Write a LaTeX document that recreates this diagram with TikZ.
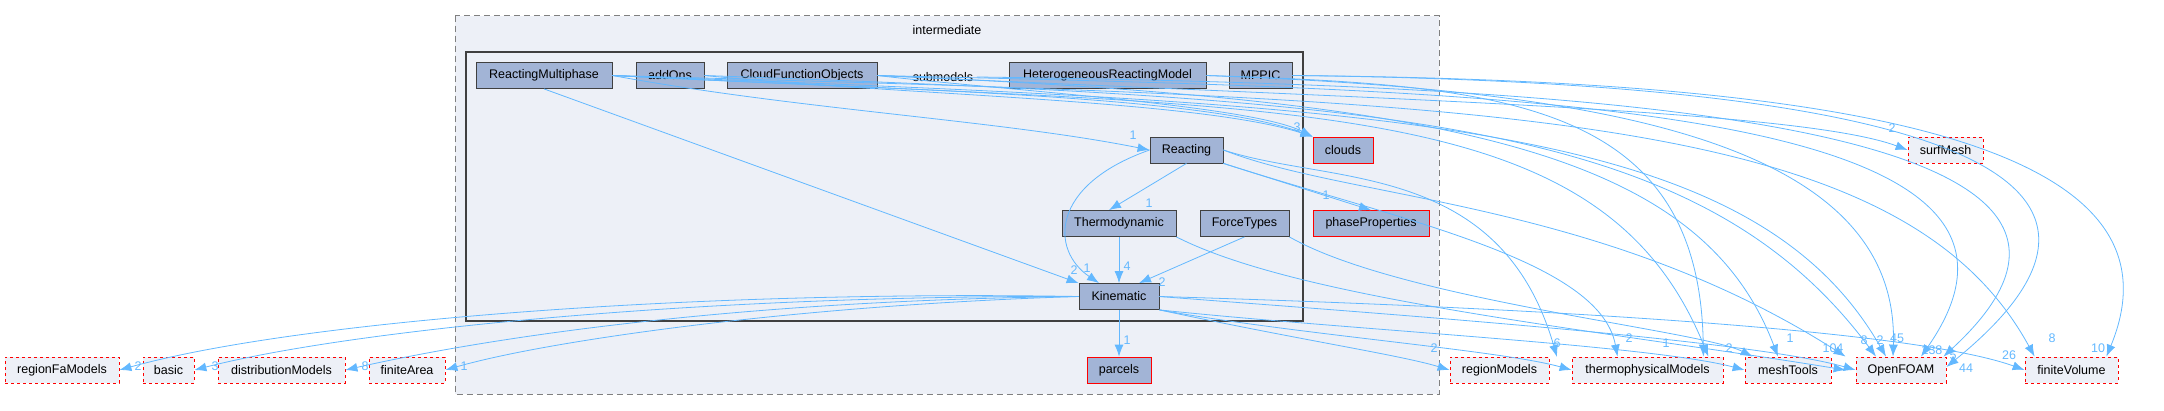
\documentclass[tikz,border=0pt]{standalone}
\usepackage{fontspec}
\setmainfont{Liberation Sans}
\usetikzlibrary{arrows.meta,positioning}

\definecolor{edgeblue}{HTML}{63B8FF}
\definecolor{dirfill}{HTML}{A2B4D6}
\definecolor{clusterfill}{HTML}{EDF0F7}
\definecolor{extfill}{HTML}{EDF0F7}

\tikzset{
  dir/.style={draw=black!75, thick, fill=dirfill, minimum height=26pt, inner sep=0pt, font=\fontsize{12.5}{14}\selectfont},
  hot/.style={draw=red, thick, fill=dirfill, minimum height=26pt, inner sep=0pt, font=\fontsize{12.5}{14}\selectfont},
  ext/.style={draw=red, thick, dashed, fill=extfill, minimum height=26pt, inner sep=0pt, font=\fontsize{12.5}{14}\selectfont},
  dep/.style={draw=edgeblue, thick, -{Latex[length=12pt,width=9pt]}},
  lbl/.style={text=edgeblue, inner sep=0pt, font=\fontsize{12.5}{14}\selectfont}
}

\begin{document}
\begin{tikzpicture}[x=1pt,y=-1pt]
\useasboundingbox (0,0) rectangle (2164,410);

% clusters
\draw[gray, thick, dash pattern=on 6pt off 4pt, fill=clusterfill] (455,15.7) rectangle (1439,394);
\node[font=\fontsize{12.5}{14}\selectfont] (intermediate) at (947,30) {intermediate};
\draw[black!75, line width=2pt, fill=clusterfill] (466,51.7) rectangle (1303,320.7);
\node[font=\fontsize{12.5}{14}\selectfont] (submodels) at (943,77) {submodels};

% directories inside
\node[dir, minimum width=136pt] (ReactingMultiphase) at (544,75.5) {ReactingMultiphase};
\node[dir, minimum width=68pt] (addOns) at (670,75.5) {addOns};
\node[dir, minimum width=150pt] (CloudFunctionObjects) at (802,75.5) {CloudFunctionObjects};
\node[dir, minimum width=197pt] (HeterogeneousReactingModel) at (1107.5,75.5) {HeterogeneousReactingModel};
\node[dir, minimum width=63pt] (MPPIC) at (1260.5,75.5) {MPPIC};
\node[dir, minimum width=73pt] (Reacting) at (1186.5,150) {Reacting};
\node[dir, minimum width=114pt] (Thermodynamic) at (1119,223.5) {Thermodynamic};
\node[dir, minimum width=89pt] (ForceTypes) at (1244.5,223.5) {ForceTypes};
\node[dir, minimum width=80pt] (Kinematic) at (1119,296.5) {Kinematic};
\node[hot, minimum width=60pt] (clouds) at (1343,150) {clouds};
\node[hot, minimum width=116pt] (phaseProperties) at (1371,223.5) {phaseProperties};
\node[hot, minimum width=64pt] (parcels) at (1119,370) {parcels};

% external directories
\node[ext, minimum width=75pt] (surfMesh) at (1945.5,150) {surfMesh};
\node[ext, minimum width=114pt] (regionFaModels) at (62,370) {regionFaModels};
\node[ext, minimum width=51pt] (basic) at (168.5,370) {basic};
\node[ext, minimum width=127pt] (distributionModels) at (281.5,370) {distributionModels};
\node[ext, minimum width=76pt] (finiteArea) at (407,370) {finiteArea};
\node[ext, minimum width=99pt] (regionModels) at (1499.5,370) {regionModels};
\node[ext, minimum width=151pt] (thermophysicalModels) at (1647.5,370) {thermophysicalModels};
\node[ext, minimum width=86pt] (meshTools) at (1788,370) {meshTools};
\node[ext, minimum width=90pt] (OpenFOAM) at (1901,370) {OpenFOAM};
\node[ext, minimum width=93pt] (finiteVolume) at (2071.5,370) {finiteVolume};

% inner dependencies
\draw[dep] (ReactingMultiphase.east) .. controls (800,110) and (1000,120) .. (Reacting.west);
\draw[dep] (ReactingMultiphase.south) -- (Kinematic.north west);
\draw[dep] (Reacting.west) .. controls (1050,185) and (1050,250) .. ([xshift=-20pt]Kinematic.north);
\draw[dep] (Reacting.south) -- ([xshift=-10pt]Thermodynamic.north);
\draw[dep] (Thermodynamic.south) -- (Kinematic.north);
\draw[dep] (ForceTypes.south) -- ([xshift=20pt]Kinematic.north);
\draw[dep] (Kinematic.south) -- (parcels.north);
\draw[dep] (Reacting.south east) -- (phaseProperties.north);
\draw[dep] (ReactingMultiphase.east) .. controls (900,90) and (1200,95) .. (clouds.north west);
\draw[dep] (addOns.east) .. controls (900,95) and (1200,100) .. (clouds.north west);
\draw[dep] (CloudFunctionObjects.east) .. controls (1000,90) and (1250,105) .. (clouds.north west);

% Kinematic to the left
\draw[dep] (Kinematic.west) .. controls (700,290) and (300,320) .. (regionFaModels.east);
\draw[dep] (Kinematic.west) .. controls (700,295) and (350,330) .. (basic.east);
\draw[dep] (Kinematic.west) .. controls (750,300) and (500,335) .. (distributionModels.east);
\draw[dep] (Kinematic.west) .. controls (800,305) and (550,340) .. (finiteArea.east);

% Kinematic to the right
\draw[dep] (Kinematic.south east) .. controls (1300,340) and (1400,355) .. (regionModels.west);
\draw[dep] (Kinematic.south east) .. controls (1300,335) and (1500,350) .. (thermophysicalModels.west);
\draw[dep] (Kinematic.south east) .. controls (1350,330) and (1650,345) .. (meshTools.west);
\draw[dep] (Kinematic.east) .. controls (1400,315) and (1750,340) .. (OpenFOAM.west);
\draw[dep] (Kinematic.east) .. controls (1450,305) and (1900,325) .. (finiteVolume.west);

% Reacting, Thermodynamic, ForceTypes
\draw[dep] (Reacting.east) .. controls (1330,185) and (1500,160) .. (1557,357);
\draw[dep] (Reacting.east) .. controls (1350,200) and (1600,200) .. ([xshift=-10pt]OpenFOAM.north west);
\draw[dep] (Reacting.south east) .. controls (1400,220) and (1600,260) .. ([xshift=-30pt]thermophysicalModels.north);
\draw[dep] (Thermodynamic.south east) .. controls (1300,300) and (1600,330) .. ([xshift=-10pt]OpenFOAM.west);
\draw[dep] (ForceTypes.south east) .. controls (1400,300) and (1700,330) .. ([xshift=8pt]meshTools.north west);

% top row to the far right
\draw[dep] (ReactingMultiphase.east) .. controls (1300,110) and (1600,90) .. ([xshift=-15pt]thermophysicalModels.north east);
\draw[dep] (ReactingMultiphase.east) .. controls (1400,105) and (1750,120) .. ([xshift=-15pt]OpenFOAM.north);
\draw[dep] (ReactingMultiphase.east) .. controls (1500,100) and (1900,110) .. ([xshift=10pt]finiteVolume.north west);
\draw[dep] (addOns.east) .. controls (1400,100) and (1700,120) .. ([xshift=-25pt]OpenFOAM.north);
\draw[dep] (CloudFunctionObjects.east) .. controls (1400,100) and (1800,110) .. (surfMesh.west);
\draw[dep] (CloudFunctionObjects.east) .. controls (1450,100) and (1700,150) .. ([xshift=-10pt]meshTools.north);
\draw[dep] (CloudFunctionObjects.east) .. controls (1500,90) and (2100,100) .. ([xshift=20pt]OpenFOAM.north);
\draw[dep] (submodels.east) .. controls (1600,85) and (2200,120) .. ([xshift=-3pt]OpenFOAM.north east);
\draw[dep] (HeterogeneousReactingModel.east) .. controls (1500,85) and (1700,100) .. ([xshift=-20pt]thermophysicalModels.north east);
\draw[dep] (HeterogeneousReactingModel.east) .. controls (1600,90) and (1900,140) .. ([xshift=-8pt]OpenFOAM.north);
\draw[dep] (MPPIC.east) .. controls (1700,80) and (2250,120) .. ([yshift=3pt]OpenFOAM.east);
\draw[dep] (MPPIC.east) .. controls (1800,80) and (2200,130) .. ([xshift=-12pt]finiteVolume.north east);

% edge labels
\node[lbl] (lReacting) at (1133,135) {1};
\node[lbl] (lThermo) at (1149,203) {1};
\node[lbl] (lKin2) at (1074,270) {2};
\node[lbl] (lKin1) at (1087,268) {1};
\node[lbl] (lKin4) at (1127,266) {4};
\node[lbl] (lKinF) at (1162,282) {2};
\node[lbl] (lparcels) at (1127,340) {1};
\node[lbl] (lclouds) at (1297,127) {3};
\node[lbl] (lphase) at (1326,195) {1};
\node[lbl] (lsurf) at (1892,128) {2};
\node[lbl] (lrFa) at (138,366) {2};
\node[lbl] (lbasic) at (215,366) {3};
\node[lbl] (ldist) at (365,366) {8};
\node[lbl] (lfA) at (464,366) {1};
\node[lbl] (lregion) at (1434,348) {2};
\node[lbl] (lthermo6) at (1557,343) {6};
\node[lbl] (lthermo2) at (1629,338) {2};
\node[lbl] (lthermo1) at (1666,343) {1};
\node[lbl] (lmesh2) at (1729,348) {2};
\node[lbl] (lmesh1) at (1790,338) {1};
\node[lbl] (lOF104) at (1833,348) {104};
\node[lbl] (lOF8) at (1864,340) {8};
\node[lbl] (lOF2) at (1880,340) {2};
\node[lbl] (lOF45) at (1897,338) {45};
\node[lbl] (lOF238) at (1932,350) {238};
\node[lbl] (lOF5) at (1953,355) {5};
\node[lbl] (lOF44) at (1966,368) {44};
\node[lbl] (lfv26) at (2009,355) {26};
\node[lbl] (lfv8) at (2052,338) {8};
\node[lbl] (lfv10) at (2098,348) {10};
\end{tikzpicture}
\end{document}
